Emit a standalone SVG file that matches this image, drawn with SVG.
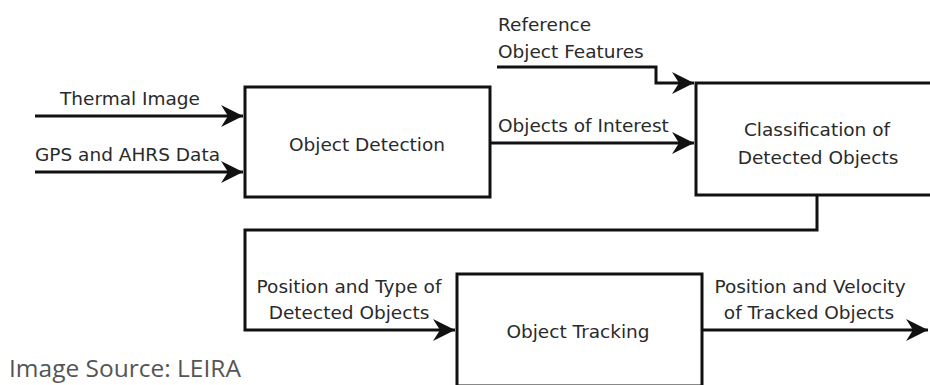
<svg xmlns="http://www.w3.org/2000/svg" width="930" height="385" viewBox="0 0 930 385">
<defs>
<style>
.box{fill:#fff;stroke:#111;stroke-width:3}
.ln{fill:none;stroke:#111;stroke-width:3}
.t{font-family:"DejaVu Sans",Verdana,sans-serif;font-size:18.5px;fill:#2a2a2a}
.m{text-anchor:middle}
.src{font-family:"Open Sans","Liberation Sans",sans-serif;font-size:24.5px;fill:#555}
</style>
<marker id="ah" markerUnits="userSpaceOnUse" markerWidth="26" markerHeight="26" viewBox="-24 -13 26 26" refX="0" refY="0" orient="auto">
<path d="M-22,-11 L0,0 L-22,11 L-15,0 z" fill="#111"/>
</marker>
</defs>
<rect width="930" height="385" fill="#fff"/>
<g id="connectors">
<line class="ln" x1="35" y1="116" x2="243" y2="116" marker-end="url(#ah)"/>
<line class="ln" x1="35" y1="172" x2="243" y2="172" marker-end="url(#ah)"/>
<polyline class="ln" points="497,67 656,67 656,83 694,83" marker-end="url(#ah)"/>
<line class="ln" x1="490" y1="143" x2="694" y2="143" marker-end="url(#ah)"/>
<polyline class="ln" points="817,195 817,230 245,230 245,330 455,330" marker-end="url(#ah)"/>
<line class="ln" x1="702" y1="330" x2="928" y2="330" marker-end="url(#ah)"/>
</g>
<g id="object-detection">
<rect class="box" x="245" y="87" width="245" height="110"/>
<text class="t m" x="367" y="151">Object Detection</text>
</g>
<g id="classification">
<rect class="box" x="696" y="83" width="245" height="112"/>
<text class="t m" x="817" y="136">Classification of</text>
<text class="t m" x="818" y="164">Detected Objects</text>
</g>
<g id="object-tracking">
<rect class="box" x="457" y="274" width="245" height="112"/>
<text class="t m" x="578" y="338">Object Tracking</text>
</g>
<g id="labels">
<text class="t m" x="130" y="105">Thermal Image</text>
<text class="t" x="35" y="161">GPS and AHRS Data</text>
<text class="t" x="498" y="31">Reference</text>
<text class="t" x="498" y="58">Object Features</text>
<text class="t" x="498" y="132">Objects of Interest</text>
<text class="t m" x="349" y="293">Position and Type of</text>
<text class="t m" x="349" y="319">Detected Objects</text>
<text class="t m" x="810" y="293">Position and Velocity</text>
<text class="t m" x="809" y="319">of Tracked Objects</text>
</g>
<text class="src" x="9" y="377">Image Source: LEIRA</text>
</svg>
